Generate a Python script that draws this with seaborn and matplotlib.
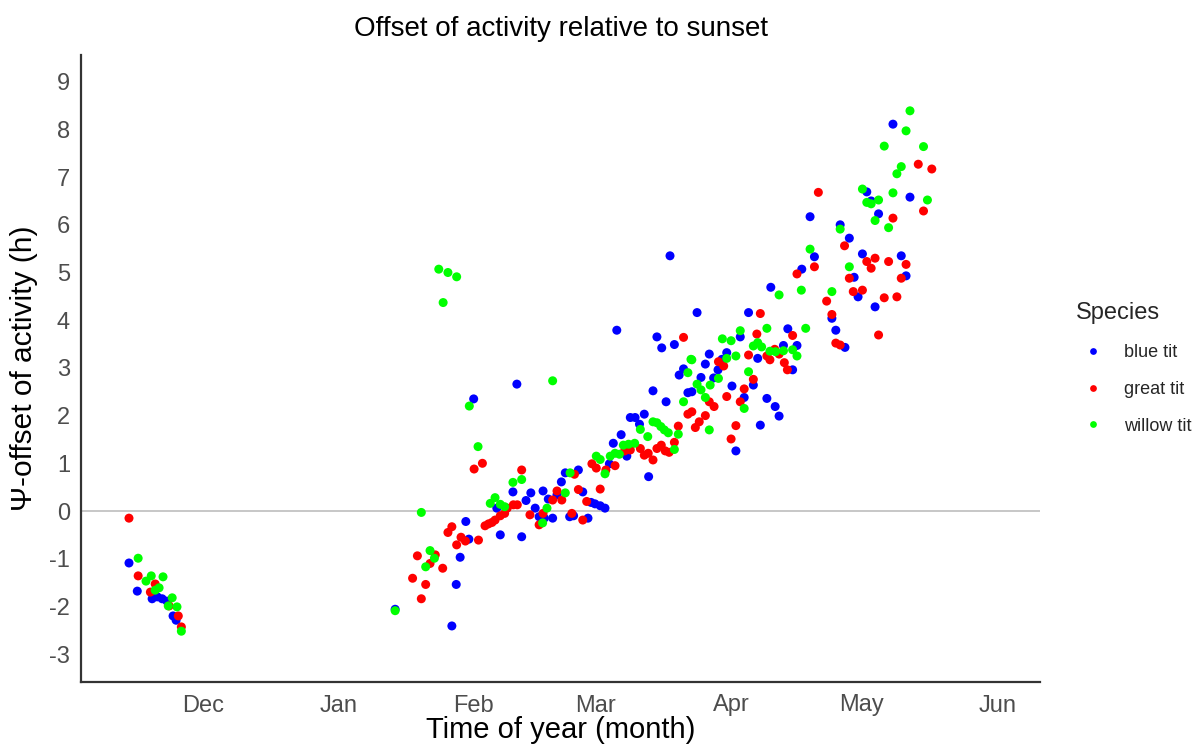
import numpy as np
import pandas as pd
import matplotlib
matplotlib.use("Agg")
import matplotlib.pyplot as plt
import seaborn as sns

# Day offsets are counted from 1 December; values are hours after sunset.
species_order = ["blue tit", "great tit", "willow tit"]
species_colors = ["#0000FF", "#FF0000", "#00FF00"]

month_labels = ["Dec", "Jan", "Feb", "Mar", "Apr", "May", "Jun"]
month_starts = [0, 31, 62, 90, 121, 151, 182]
y_ticks = list(range(-3, 10))

blue_day = [
    -17.0, -15.1, -11.7, -10.5, -9.4, -8.3, -6.9, -6.2,
    44.0, 57.0, 58.0, 58.9, 60.2, 60.9, 62.0,
    71.9, 71.0, 75.1, 77.9, 74.0, 67.3, 76.1, 77.0, 68.1, 73.0,
    94.8, 95.8, 94.0, 93.1, 86.0, 83.0, 82.1, 87.0, 81.1, 79.1, 88.9, 89.8,
    91.0, 92.1, 84.0, 84.9, 80.1, 78.2, 88.2,
    107.0, 104.0, 105.1, 108.0, 110.1, 109.1, 103.1, 106.1, 111.1, 101.1,
    97.9, 99.0, 100.0, 97.1, 102.1,
    113.2, 125.0, 123.1, 120.0, 116.0, 127.1, 118.9, 115.1, 118.0, 126.1,
    117.0, 114.1, 121.2, 112.0, 124.0, 127.7, 122.1,
    139.1, 140.1, 137.2, 130.1, 134.0, 133.0, 136.1, 135.1, 129.2, 131.1, 132.0,
    152.1, 153.1, 154.8, 146.0, 148.1, 151.1, 149.2, 150.1, 154.0, 144.1, 145.0, 147.1,
    158.1, 162.0, 160.0, 161.1,
]
blue_offset = [
    -1.09, -1.68, -1.84, -1.80, -1.84, -1.89, -2.20, -2.29,
    -2.06, -2.41, -1.54, -0.97, -0.22, -0.59, 2.35,
    2.66, 0.40, 0.38, 0.42, 0.22, 0.06, 0.06, -0.12, -0.50, -0.54,
    3.79, 1.60, 1.42, 0.99, 0.86, 0.80, 0.61, 0.40, 0.34, 0.25, 0.18, 0.15,
    0.11, 0.06, -0.12, -0.10, -0.15, -0.15, -0.15,
    5.35, 3.65, 3.42, 3.49, 2.98, 2.85, 2.52, 2.29, 2.48, 2.03,
    1.96, 1.96, 1.82, 1.15, 0.72,
    4.16, 4.16, 3.65, 3.32, 3.29, 3.20, 3.18, 3.08, 2.96, 2.64,
    2.79, 2.80, 2.62, 2.50, 2.38, 1.80, 1.26,
    6.17, 5.33, 5.07, 4.69, 3.82, 3.47, 3.47, 2.96, 2.36, 2.19, 1.99,
    6.69, 6.50, 6.23, 6.00, 5.72, 5.39, 4.90, 4.49, 4.28, 4.04, 3.79, 3.43,
    8.11, 6.58, 5.35, 4.93,
]

great_day = [
    -17.0, -14.9, -11.0, -12.1, -7.8, -5.7, -5.0,
    57.0, 56.1, 59.1, 60.1, 58.1, 53.2, 49.1, 52.0, 54.9, 48.0, 51.0, 50.0,
    64.0, 62.1, 73.0, 71.1, 72.0, 69.7, 69.1, 68.1, 66.9, 66.2, 65.4, 64.6,
    74.9, 77.0, 63.1,
    89.1, 90.1, 94.4, 92.3, 85.1, 91.0, 86.0, 81.1, 80.1, 82.2, 87.9, 77.9, 84.5, 87.0,
    110.1, 111.1, 108.9, 108.0, 100.2, 97.9, 96.6, 102.0, 101.1, 104.0, 105.0,
    105.9, 106.8, 103.1,
    127.7, 126.9, 125.0, 118.1, 119.3, 126.1, 124.0, 120.0, 123.1, 116.0, 117.1,
    112.0, 115.1, 113.7, 112.8, 122.1, 121.0,
    141.0, 140.1, 136.1, 142.9, 135.1, 131.0, 132.0, 129.2, 129.9, 133.2, 133.9,
    147.0, 154.0, 152.1, 153.1, 148.1, 149.0, 151.1, 144.1, 145.0, 146.0, 154.8,
    163.9, 167.0, 165.1, 158.1, 157.1, 161.1, 160.0, 156.1, 159.0,
]
great_offset = [
    -0.15, -1.36, -1.53, -1.70, -1.99, -2.20, -2.43,
    -0.33, -0.45, -0.55, -0.63, -0.71, -0.92, -0.94, -1.10, -1.20, -1.41, -1.54, -1.84,
    1.00, 0.88, 0.86, 0.13, 0.13, 0.06, -0.05, -0.10, -0.19, -0.24, -0.27, -0.31,
    -0.08, -0.29, -0.61,
    0.99, 0.90, 0.95, 0.86, 0.77, 0.46, 0.45, 0.42, 0.23, 0.23, 0.20, -0.05, -0.05, -0.19,
    3.64, 2.03, 1.78, 1.44, 1.31, 1.28, 1.26, 1.21, 1.17, 1.31, 1.38,
    1.26, 1.23, 1.07,
    4.14, 3.71, 3.27, 3.13, 3.04, 2.76, 2.56, 2.40, 2.29, 2.29, 2.19,
    2.08, 2.00, 1.87, 1.75, 1.79, 1.51,
    6.68, 5.12, 4.97, 4.40, 3.68, 3.39, 3.29, 3.25, 3.17, 3.11, 2.96,
    5.56, 5.30, 5.23, 5.09, 4.88, 4.60, 4.63, 4.12, 3.52, 3.48, 3.69,
    7.27, 7.17, 6.29, 6.14, 5.23, 5.17, 4.88, 4.47, 4.49,
]

willow_day = [
    -14.9, -11.9, -13.1, -9.2, -10.1, -11.0, -7.1, -8.0, -6.0, -5.0,
    54.0, 56.1, 58.1, 55.0, 61.0, 50.0, 52.0, 53.0, 51.0, 44.0,
    63.0, 73.0, 71.0, 66.9, 65.8, 68.1, 69.1, 77.8,
    80.1, 90.1, 91.0, 93.3, 94.4, 95.4, 92.1, 84.1, 83.0, 78.8,
    111.8, 111.1, 110.1, 103.1, 104.0, 100.2, 104.9, 105.7, 106.6, 101.9,
    108.9, 96.3, 97.5, 98.9, 108.0,
    123.1, 119.0, 121.0, 126.1, 127.1, 122.1, 120.0, 112.0, 125.0, 118.1,
    113.2, 116.2, 114.1, 115.1, 124.0, 116.0,
    139.1, 132.0, 137.1, 129.2, 138.1, 128.0, 129.9, 131.2, 133.0, 135.1, 136.1,
    151.1, 152.1, 153.1, 154.8, 154.0, 146.0, 148.1, 144.1,
    162.0, 161.1, 156.1, 165.1, 160.0, 159.0, 158.1, 166.0, 157.1,
]
willow_offset = [
    -0.99, -1.36, -1.47, -1.38, -1.61, -1.66, -1.82, -1.99, -2.01, -2.52,
    5.07, 5.00, 4.91, 4.37, 2.20, -0.03, -0.83, -0.99, -1.17, -2.09,
    1.35, 0.66, 0.60, 0.28, 0.16, 0.14, 0.09, -0.25,
    2.73, 1.15, 1.08, 1.15, 1.21, 1.19, 0.78, 0.80, 0.38, 0.06,
    3.18, 2.90, 2.29, 1.87, 1.85, 1.71, 1.77, 1.70, 1.64, 1.56,
    1.61, 1.38, 1.40, 1.42, 1.29,
    3.78, 3.61, 3.57, 3.46, 3.53, 3.25, 3.20, 3.17, 2.92, 2.78,
    2.66, 2.64, 2.54, 2.38, 2.15, 1.70,
    5.49, 4.53, 4.63, 3.83, 3.83, 3.44, 3.35, 3.34, 3.36, 3.38, 3.25,
    6.75, 6.47, 6.44, 6.52, 6.09, 5.91, 5.12, 4.60,
    8.39, 7.97, 7.65, 7.64, 7.22, 7.07, 6.67, 6.52, 5.94,
]

df = pd.concat([
    pd.DataFrame({"day": blue_day, "offset": blue_offset, "Species": "blue tit"}),
    pd.DataFrame({"day": great_day, "offset": great_offset, "Species": "great tit"}),
    pd.DataFrame({"day": willow_day, "offset": willow_offset, "Species": "willow tit"}),
], ignore_index=True)

sns.set_style("white")
plt.rcParams["font.family"] = ["Liberation Sans", "DejaVu Sans"]
plt.rcParams["axes.unicode_minus"] = False

W, H = 1201, 747
fig = plt.figure(figsize=(W / 100, H / 100), dpi=100)
ax = fig.add_axes([81 / W, 1 - 682 / H, (1040 - 81) / W, (682 - 55) / H])

ax.axhline(0, color="#BDBDBD", linewidth=1.2, zorder=1)
sns.scatterplot(
    data=df, x="day", y="offset", hue="Species",
    hue_order=species_order, palette=species_colors,
    s=42, linewidth=0, alpha=1, ax=ax, zorder=2,
)

ax.set_xlim(-28.0, 191.8)
ax.set_ylim(-3.585, 9.56)
ax.set_xticks(month_starts)
ax.set_xticklabels(month_labels)
ax.set_yticks(y_ticks)
ax.set_yticklabels([str(v) for v in y_ticks])
ax.tick_params(axis="both", length=0, labelsize=17, labelcolor="#4D4D4D")
ax.tick_params(axis="x", pad=9)
ax.tick_params(axis="y", pad=8)

for side in ("top", "right"):
    ax.spines[side].set_visible(False)
for side in ("left", "bottom"):
    ax.spines[side].set_color("#333333")
    ax.spines[side].set_linewidth(1.6)

ax.set_xlabel("Time of year (month)", fontsize=21, color="black", labelpad=0)
ax.set_ylabel("Ψ-offset of activity (h)", fontsize=21.5, color="black", labelpad=8)
ax.set_title("Offset of activity relative to sunset", fontsize=20, color="black", pad=14)

handles, labels = ax.get_legend_handles_labels()
ax.legend(
    handles, labels, title="Species", loc="center left",
    bbox_to_anchor=(1.02, 0.5), frameon=False, fontsize=13,
    title_fontsize=17, labelspacing=1.1, handletextpad=0.7,
    markerscale=0.75, alignment="left",
)

fig.savefig("out.png", dpi=100)
